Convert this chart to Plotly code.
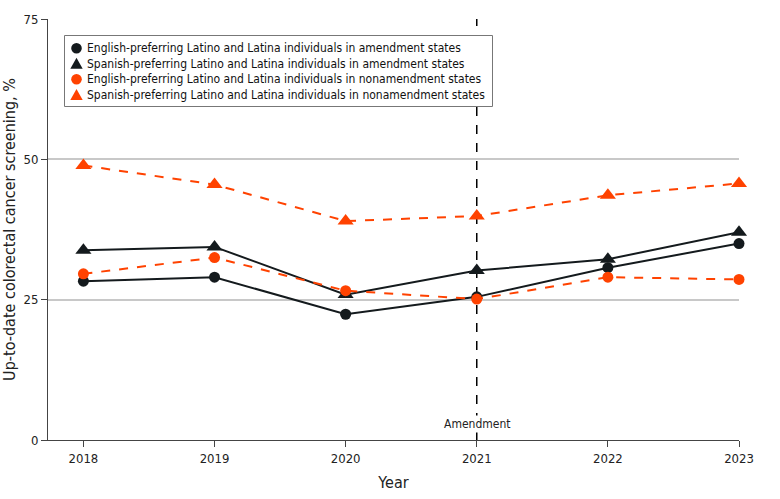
import plotly.graph_objects as go

years = [2018, 2019, 2020, 2021, 2022, 2023]
eng_amend = [28.3, 29.0, 22.4, 25.5, 30.7, 35.0]
spa_amend = [33.8, 34.4, 25.9, 30.2, 32.2, 37.0]
eng_nonamend = [29.6, 32.5, 26.6, 25.1, 29.0, 28.6]
spa_nonamend = [48.9, 45.5, 39.0, 39.9, 43.6, 45.7]

names = [
    "English-preferring Latino and Latina individuals in amendment states",
    "Spanish-preferring Latino and Latina individuals in amendment states",
    "English-preferring Latino and Latina individuals in nonamendment states",
    "Spanish-preferring Latino and Latina individuals in nonamendment states",
]
BLACK = "#141a1d"
ORANGE = "#FF4200"
FONT = "DejaVu Sans Condensed"

series = [
    (eng_amend, names[0], BLACK, "solid", "circle"),
    (spa_amend, names[1], BLACK, "solid", "triangle-up"),
    (eng_nonamend, names[2], ORANGE, "dash", "circle"),
    (spa_nonamend, names[3], ORANGE, "dash", "triangle-up"),
]

W, H = 780, 499
ML, MR, MT, MB = 48, 41, 19, 59
PW, PH = W - ML - MR, H - MT - MB


def px(x):
    return (x - ML) / PW


def py(y):
    return 1 - (y - MT) / PH


fig = go.Figure()
for vals, name, color, dash, sym in series:
    fig.add_trace(go.Scatter(
        x=years, y=vals, name=name, mode="lines+markers", showlegend=False,
        line=dict(color=color, width=2, dash=dash),
        marker=dict(color=color, size=11 if sym == "circle" else 14, symbol=sym),
        cliponaxis=False,
    ))

fig.add_shape(type="line", x0=2021, x1=2021, y0=0, y1=75, xref="x", yref="y",
              line=dict(color="black", width=1.5, dash="dash"), layer="below")
fig.add_annotation(x=2021, y=0, xref="x", yref="y", text="Amendment", showarrow=False,
                   yshift=16, bgcolor="white", font=dict(size=12, color="#222"))

# manual legend
fig.add_shape(type="rect", xref="paper", yref="paper",
              x0=px(64.5), x1=px(492.5), y0=py(106.5), y1=py(35.5),
              line=dict(color="#777", width=1), fillcolor="white", layer="above")
row_y = [48.3, 63.6, 79.2, 94.8]
for (vals, name, color, dash, sym), ry in zip(series, row_y):
    if sym == "circle":
        fig.add_shape(type="circle", xref="paper", yref="paper",
                      xsizemode="pixel", ysizemode="pixel",
                      xanchor=px(76.5), yanchor=py(ry),
                      x0=-5.3, x1=5.3, y0=-5.3, y1=5.3,
                      line=dict(width=0), fillcolor=color, layer="above")
    else:
        fig.add_shape(type="path", xref="paper", yref="paper",
                      xsizemode="pixel", ysizemode="pixel",
                      xanchor=px(76.5), yanchor=py(ry),
                      path="M-6.2,-5.2 L6.2,-5.2 L0,5.8 Z",
                      line=dict(width=0), fillcolor=color, layer="above")
    fig.add_annotation(x=px(84.5), y=py(ry), xref="paper", yref="paper",
                       xanchor="left", yanchor="middle", text=name, showarrow=False,
                       font=dict(size=12, color="#111"))

fig.update_layout(
    width=W, height=H,
    margin=dict(l=ML, r=MR, t=MT, b=MB),
    paper_bgcolor="white", plot_bgcolor="white",
    font=dict(family=FONT, size=13, color="#222"),
    showlegend=False,
    xaxis=dict(range=[2017.73, 2023], tickvals=years, ticktext=[str(y) for y in years],
               showgrid=False, showline=True, linecolor="#444", linewidth=1,
               ticks="outside", ticklen=6, tickcolor="#444", automargin=False,
               title=dict(text="Year", standoff=12), zeroline=False),
    yaxis=dict(range=[0, 75], tickvals=[0, 25, 50, 75],
               showgrid=True, gridcolor="#c8c8c8", gridwidth=1.5,
               showline=True, linecolor="#444", linewidth=1,
               ticks="outside", ticklen=6, tickcolor="#444", automargin=False,
               title=dict(text="Up-to-date colorectal cancer screening, %", standoff=6),
               zeroline=False),
)

fig.write_html("out.html")
